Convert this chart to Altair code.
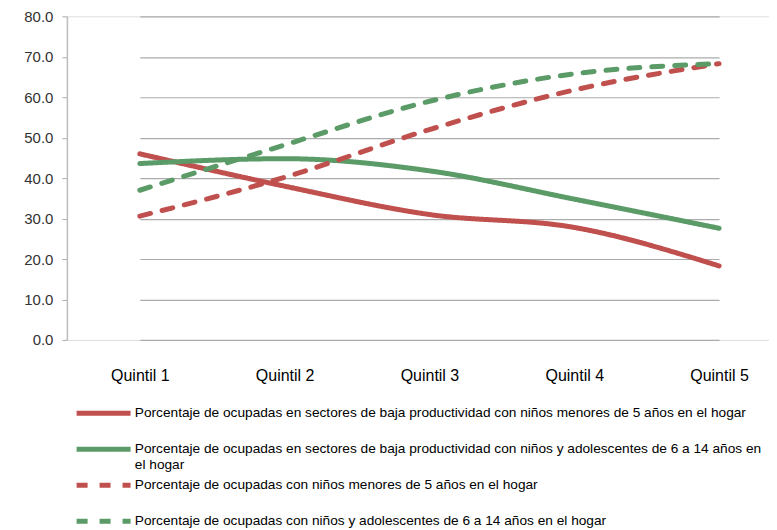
import altair as alt
import pandas as pd

quintiles = ["Quintil 1", "Quintil 2", "Quintil 3", "Quintil 4", "Quintil 5"]

series_names = [
    "Porcentaje de ocupadas en sectores de baja productividad con niños menores de 5 años en el hogar",
    "Porcentaje de ocupadas en sectores de baja productividad con niños y adolescentes de 6 a 14 años en|el hogar",
    "Porcentaje de ocupadas con niños menores de 5 años en el hogar",
    "Porcentaje de ocupadas con niños y adolescentes de 6 a 14 años en el hogar",
]

red_solid = [46.0, 38.0, 31.0, 27.8, 18.3]
green_solid = [43.6, 44.8, 41.8, 34.8, 27.6]
red_dashed = [30.6, 40.2, 52.0, 61.8, 68.3]
green_dashed = [37.0, 48.2, 59.0, 65.8, 68.3]

all_values = [red_solid, green_solid, red_dashed, green_dashed]

rows = []
for name, vals in zip(series_names, all_values):
    for q, v in zip(quintiles, vals):
        rows.append({"quintil": q, "valor": v, "serie": name})
df = pd.DataFrame(rows)

colors = ["#C0504D", "#5B9B67", "#C0504D", "#5B9B67"]
dashes = [[1, 0], [1, 0], [11, 12], [11, 12]]

FONT = "Liberation Sans, Arial"

legend_cfg = dict(
    title=None, orient="none", legendX=7, legendY=384,
    direction="vertical", columns=1, gridAlign="all",
    symbolType="M-1,0H4", symbolSize=467, symbolStrokeWidth=5,
    symbolFillColor="transparent",
    labelFontSize=13.7, labelColor="#000000", labelFont=FONT,
    labelLimit=700, rowPadding=0, labelOffset=34,
    labelExpr="split(datum.label, '|')",
)

chart = alt.Chart(df).mark_line(
    strokeWidth=5, strokeCap="round", interpolate="monotone"
).encode(
    x=alt.X(
        "quintil:N",
        sort=quintiles,
        scale=alt.Scale(type="point", range=[73, 653], padding=0),
        axis=alt.Axis(
            title=None, labelAngle=0, ticks=False, domain=False, grid=False,
            labelFontSize=16, labelColor="#000000", labelPadding=28, labelFont=FONT,
        ),
    ),
    y=alt.Y(
        "valor:Q",
        scale=alt.Scale(domain=[0, 80], nice=False),
        axis=alt.Axis(
            title=None, values=[0, 10, 20, 30, 40, 50, 60, 70, 80], format=".1f",
            grid=True, gridColor="#ABABAB", gridWidth=1.2,
            domain=True, domainColor="#BDBDBD", domainWidth=1.5,
            ticks=True, tickSize=5, tickColor="#ABABAB",
            labelFontSize=15, labelColor="#333333", labelPadding=9, labelFont=FONT,
        ),
    ),
    color=alt.Color(
        "serie:N",
        scale=alt.Scale(domain=series_names, range=colors),
        legend=alt.Legend(**legend_cfg),
    ),
    strokeDash=alt.StrokeDash(
        "serie:N",
        scale=alt.Scale(domain=series_names, range=dashes),
        legend=alt.Legend(**legend_cfg),
    ),
).properties(
    width=703,
    height=324,
    autosize="none",
    padding={"left": 59, "top": 8, "right": 0, "bottom": 190},
).configure_view(stroke=None).configure(background="white")

chart.save("out.html", embed_options={"renderer": "svg", "actions": False})
